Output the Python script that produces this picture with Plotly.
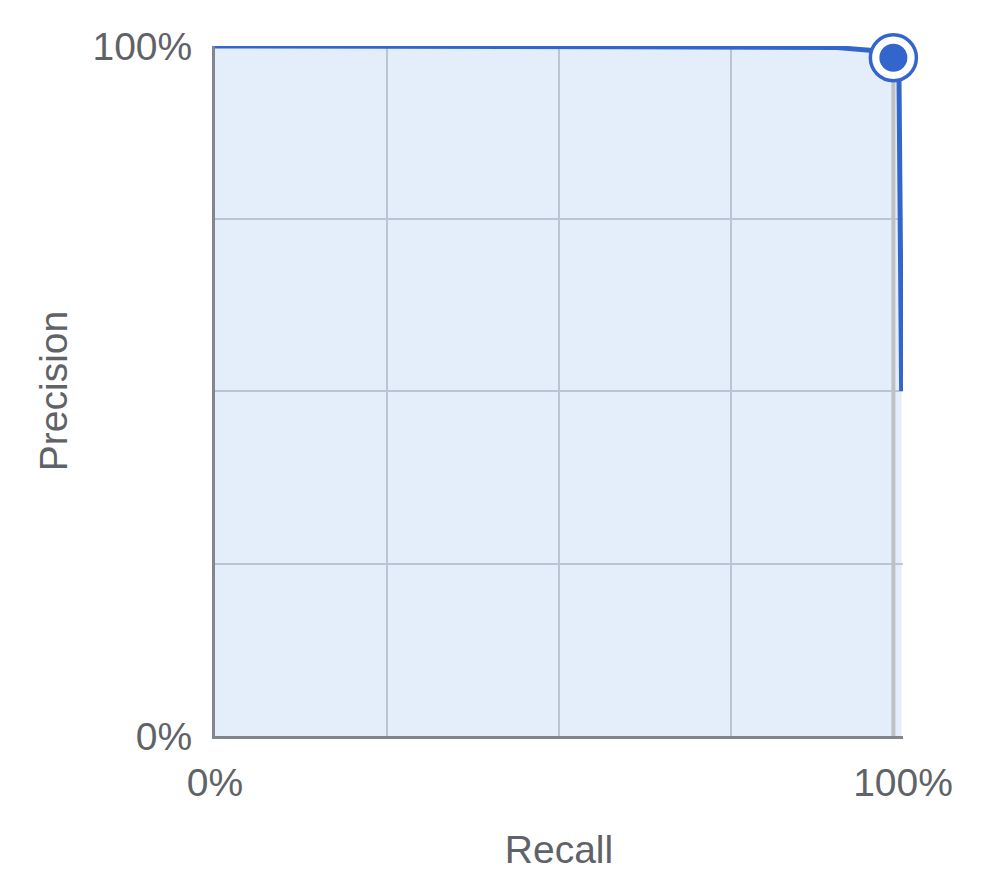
import plotly.graph_objects as go

# Precision-recall curve values (fractions)
recall = [0.0, 0.30, 0.60, 0.90, 0.94, 0.96, 0.986, 0.994, 0.998]
precision = [1.0, 1.0, 0.999, 0.998, 0.995, 0.993, 0.983, 0.975, 0.5]

# Selected threshold point
thr_recall = [0.986]
thr_precision = [0.983]

tick_vals = [0, 0.25, 0.5, 0.75, 1.0]
tick_text = ["0%", "", "", "", "100%"]

BLUE = "#3366cc"
TEXT = "#5f6368"
FONT = "Liberation Sans, Arial, sans-serif"

fig = go.Figure()

# area under the curve
fig.add_trace(go.Scatter(
    x=recall, y=precision, mode="lines", fill="tozeroy",
    fillcolor="rgba(25,118,210,0.12)", line=dict(width=0, color=BLUE),
    hoverinfo="skip", showlegend=False))

# threshold vertical indicator
fig.add_trace(go.Scatter(
    x=[thr_recall[0], thr_recall[0]], y=[0, thr_precision[0]], mode="lines",
    line=dict(color="#bdc1c6", width=4), hoverinfo="skip", showlegend=False))

# curve line
fig.add_trace(go.Scatter(
    x=recall, y=precision, mode="lines",
    line=dict(color=BLUE, width=5), showlegend=False))

# threshold marker (outer ring + inner dot)
fig.add_trace(go.Scatter(
    x=thr_recall, y=thr_precision, mode="markers",
    marker=dict(size=46, color="white", line=dict(color=BLUE, width=3.5)),
    showlegend=False, cliponaxis=False))
fig.add_trace(go.Scatter(
    x=thr_recall, y=thr_precision, mode="markers",
    marker=dict(size=28, color=BLUE, line=dict(width=0)),
    showlegend=False, cliponaxis=False))

fig.update_layout(
    width=986, height=893, autosize=False,
    margin=dict(l=207, r=91, t=38, b=165),
    plot_bgcolor="white", paper_bgcolor="white",
    font=dict(family=FONT, color=TEXT, size=39),
    xaxis=dict(
        range=[0, 1], tickvals=tick_vals, ticktext=tick_text,
        showgrid=True, gridcolor="#d0d0d4", gridwidth=2,
        zeroline=False, showline=True, linecolor="#80868b", linewidth=3,
        ticks="", ticklabelstandoff=10,
        tickfont=dict(size=39, color=TEXT, family=FONT),
        title=dict(text="Recall", font=dict(size=39, color=TEXT, family=FONT), standoff=33),
    ),
    yaxis=dict(
        range=[0, 1], tickvals=tick_vals, ticktext=tick_text,
        showgrid=True, gridcolor="#d0d0d4", gridwidth=2,
        zeroline=False, showline=True, linecolor="#80868b", linewidth=3,
        ticks="", ticklabelstandoff=12,
        tickfont=dict(size=39, color=TEXT, family=FONT),
        title=dict(text="Precision", font=dict(size=39, color=TEXT, family=FONT), standoff=13),
    ),
)

fig.write_html("out.html")
